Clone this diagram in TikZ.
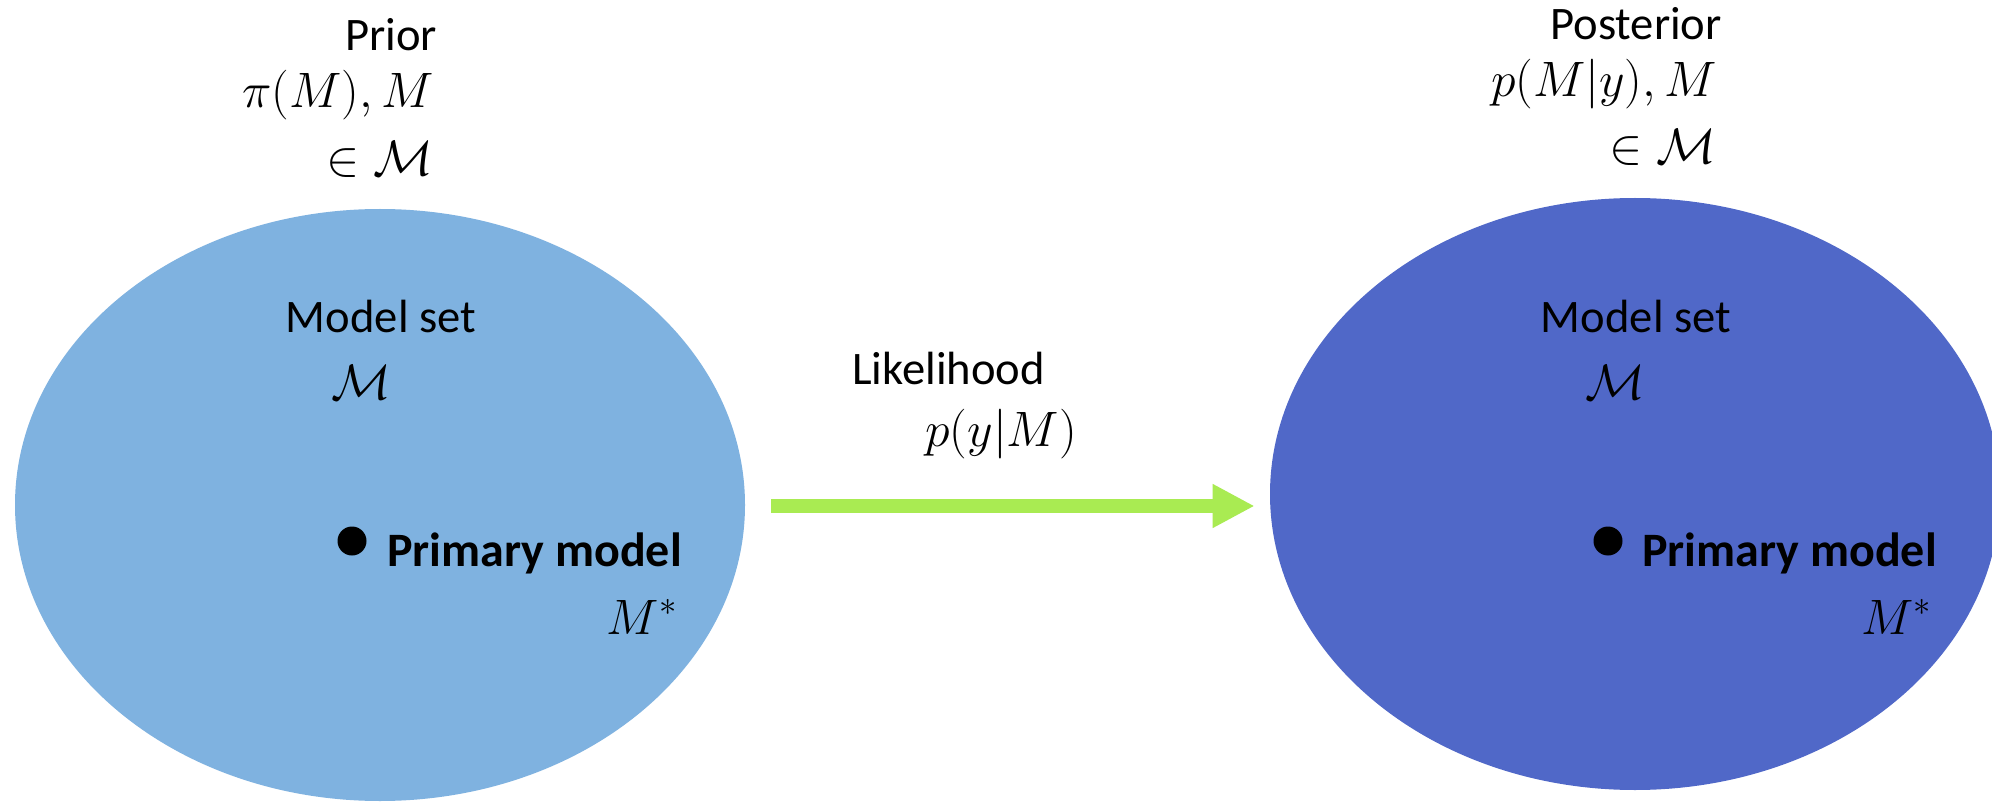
\documentclass[tikz,border=0pt]{standalone}
\usepackage{fontspec}
\setmainfont{Carlito}
\usetikzlibrary{shapes.geometric,arrows.meta}
\definecolor{priorblue}{RGB}{127,178,224}
\definecolor{postblue}{RGB}{80,104,200}
\definecolor{likegreen}{RGB}{169,235,82}
\tikzset{
  setshape/.style={ellipse, draw=none, inner sep=0pt, minimum width=365pt, minimum height=296pt},
  lbl/.style={inner sep=0pt, font=\fontsize{23.3}{28}\selectfont},
  boldlbl/.style={inner sep=0pt, font=\fontsize{24}{28}\selectfont\bfseries},
  dotmark/.style={circle, fill=black, inner sep=0pt, minimum size=14.5pt},
  flow/.style={draw=likegreen, line width=7pt, -{Triangle[length=21pt, width=20.5pt]}}
}
\begin{document}
\begin{tikzpicture}[x=0.5pt, y=-0.5pt]
  \clip (0,0) rectangle (1992,802);
  \fill[white] (0,0) rectangle (1992,802);

  % model sets
  \node[setshape, fill=priorblue] (L) at (380,505) {};
  \node[setshape, fill=postblue] (R) at (1635,494) {};

  % prior side
  \node[lbl, anchor=base] (priorT) at (391,51) {Prior};
  \node[lbl, anchor=base east] (priorF) at (434,108) {$\pi(M), M$};
  \node[lbl, anchor=base east] (priorS) at (434,176) {${\in}\;\mathcal{M}$};
  \node[lbl, anchor=base] (setL) at (381,333) {Model set};
  \node[lbl, anchor=base west] (calL) at (331,400) {$\mathcal{M}$};
  \node[dotmark] (dotL) at (352,541) {};
  \node[boldlbl, anchor=base west] (primL) at (387,566) {Primary model};
  \node[lbl, anchor=base east] (starL) at (678,634) {$M^{*}$};

  % posterior side
  \node[lbl, anchor=base] (postT) at (1636,40) {Posterior};
  \node[lbl, anchor=base east] (postF) at (1717,97) {$p(M|y), M$};
  \node[lbl, anchor=base east] (postS) at (1717,164) {${\in}\;\mathcal{M}$};
  \node[lbl, anchor=base] (setR) at (1636,333) {Model set};
  \node[lbl, anchor=base west] (calR) at (1585,400) {$\mathcal{M}$};
  \node[dotmark] (dotR) at (1608,541) {};
  \node[boldlbl, anchor=base west] (primR) at (1642,566) {Primary model};
  \node[lbl, anchor=base east] (starR) at (1932,634) {$M^{*}$};

  % likelihood arrow
  \node[lbl, anchor=base west] (likeT) at (852,385) {Likelihood};
  \node[lbl, anchor=base west] (likeF) at (925,446) {$p(y|M)$};
  \coordinate (tailpt) at ([xshift=13pt, yshift=-0.5pt]L.east);
  \path (tailpt -| R.west) coordinate (rimpt);
  \coordinate (tippt) at ([xshift=-7.5pt]rimpt);
  \draw[flow] (tailpt) -- (tippt);
\end{tikzpicture}
\end{document}
